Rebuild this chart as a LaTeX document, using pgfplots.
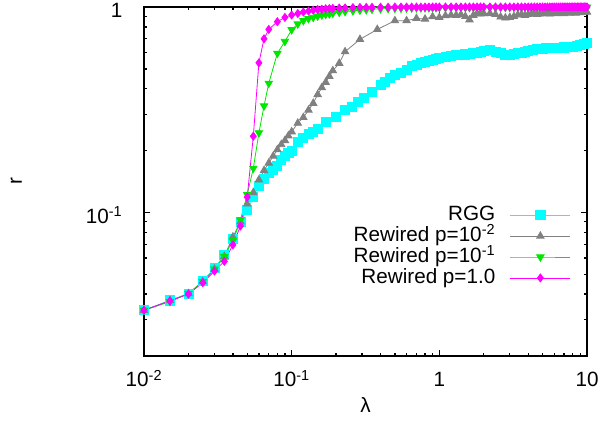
\documentclass[border=0pt]{standalone}
\usepackage{fontspec}
\setmainfont{Liberation Sans}
\usepackage{pgfplots}
\pgfplotsset{compat=1.18}

\definecolor{rgg}{RGB}{0,255,255}
\definecolor{pgray}{RGB}{128,128,128}
\definecolor{pgreen}{RGB}{0,230,0}
\definecolor{pmag}{RGB}{255,0,255}

\begin{document}
\fontsize{15.5}{18}\selectfont
\begin{tikzpicture}[font=\fontsize{15.5}{18}\selectfont]
\path[use as bounding box] (-108pt,-50.25pt) rectangle (342pt,267pt);
\begin{axis}[
  at={(0,0)}, anchor=south west,
  scale only axis, width=332.25pt, height=261.75pt,
  xmode=log, ymode=log,
  xmin=0.01, xmax=10, ymin=0.02, ymax=1,
  xtick={0.01,0.1,1,10},
  xticklabels={10\textsuperscript{-2},10\textsuperscript{-1},1,10},
  minor xtick={0.02,0.03,0.04,0.05,0.06,0.07,0.08,0.09,0.2,0.3,0.4,0.5,0.6,0.7,0.8,0.9,2,3,4,5,6,7,8,9},
  ytick={0.1,1},
  yticklabels={10\textsuperscript{-1},1},
  minor ytick={0.03,0.04,0.05,0.06,0.07,0.08,0.09,0.2,0.3,0.4,0.5,0.6,0.7,0.8,0.9},
  tick align=inside,
  major tick length=4.5pt, minor tick length=2.6pt,
  axis line style={line width=1.3pt},
  every tick/.style={line width=1pt, black},
  xticklabel style={anchor=base, inner sep=0pt, yshift=-23.25pt},
  yticklabel style={anchor=base east, inner sep=0pt, yshift=-8pt},
  yticklabel shift=16pt,
  xlabel={λ}, ylabel={r},
  xlabel style={at={(axis description cs:0.5,-0.1633)}, anchor=base},
  ylabel style={at={(axis description cs:-0.2754,0.5)}, anchor=base},
  legend style={draw=none, fill=none, at={(0.973,0.442)}, anchor=north east,
    /tikz/column sep=9pt, row sep=0pt,
    nodes={inner xsep=2pt, inner ysep=0.5pt, text height=11.2pt, text depth=3.5pt}},
  legend cell align=right,
  legend plot pos=right,
  legend image code/.code={\draw[mark repeat=2,mark phase=2,#1] plot coordinates {(0pt,0pt) (22.5pt,0pt) (45pt,0pt)};},
  every axis plot/.append style={line width=0.6pt},
]
% RGG
\addplot[color=rgg, mark=square*, mark size=3.4pt, mark options={solid}] coordinates {
(0.01,0.0334) (0.015,0.0373) (0.02,0.0403) (0.025,0.0462) (0.03,0.0535) (0.035,0.062)
(0.04,0.074) (0.045,0.090) (0.05,0.1025) (0.055,0.1186) (0.06,0.135) (0.065,0.146)
(0.07,0.155) (0.075,0.162) (0.08,0.168) (0.085,0.18) (0.09,0.188) (0.095,0.195)
(0.1,0.200) (0.11,0.221) (0.12,0.231) (0.13,0.24) (0.14,0.247) (0.15,0.255)
(0.17,0.276) (0.2,0.292) (0.23,0.315) (0.255,0.325) (0.28,0.345) (0.31,0.36)
(0.35,0.387) (0.4,0.417) (0.43,0.43) (0.46,0.45) (0.5,0.465) (0.55,0.48)
(0.6,0.495) (0.65,0.515) (0.7,0.525) (0.75,0.535) (0.8,0.542) (0.85,0.548)
(0.9,0.552) (0.95,0.56) (1.0,0.565) (1.1,0.572) (1.2,0.577) (1.3,0.582)
(1.4,0.585) (1.5,0.588) (1.6,0.59) (1.7,0.595) (1.8,0.6) (1.9,0.605)
(2.0,0.61) (2.2,0.618) (2.4,0.605) (2.6,0.595) (2.8,0.586) (3.0,0.584)
(3.2,0.59) (3.4,0.598) (3.6,0.6) (3.8,0.605) (4.0,0.61) (4.3,0.618)
(4.6,0.622) (5.0,0.628) (5.3,0.629) (5.6,0.63) (6.0,0.632) (6.5,0.633)
(7.0,0.636) (7.5,0.638) (8.0,0.641) (8.5,0.645) (9.0,0.652) (9.5,0.66) (10,0.666)
};
\addlegendentry{RGG}
% Rewired p=1e-2
\addplot[color=pgray, mark=triangle*, mark size=3.2pt, mark options={solid}] coordinates {
(0.01,0.0334) (0.015,0.0372) (0.02,0.0402) (0.025,0.046) (0.03,0.053) (0.035,0.061)
(0.04,0.076) (0.045,0.090) (0.05,0.110) (0.055,0.125) (0.06,0.144) (0.065,0.16)
(0.07,0.174) (0.075,0.188) (0.08,0.202) (0.085,0.214) (0.09,0.224) (0.095,0.236)
(0.1,0.247) (0.11,0.272) (0.12,0.29) (0.13,0.315) (0.14,0.34) (0.15,0.375)
(0.16,0.405) (0.17,0.43) (0.18,0.46) (0.19,0.49) (0.21,0.532) (0.23,0.606)
(0.29,0.696) (0.38,0.778) (0.5,0.858) (0.6,0.858) (0.7,0.88) (0.8,0.874)
(0.9,0.897) (1.0,0.89) (1.1,0.907) (1.2,0.914) (1.3,0.912) (1.4,0.918)
(1.5,0.9) (1.6,0.866) (1.7,0.912) (1.8,0.93) (1.9,0.925) (2.0,0.93)
(2.2,0.93) (2.4,0.92) (2.6,0.895) (2.8,0.885) (3.0,0.89) (3.2,0.9)
(3.4,0.915) (3.6,0.92) (3.8,0.91) (4.0,0.92) (4.2,0.925) (4.4,0.93)
(4.6,0.92) (4.8,0.925) (5.0,0.93) (5.2,0.935) (5.4,0.93) (5.6,0.925)
(5.8,0.935) (6.0,0.94) (6.2,0.93) (6.4,0.935) (6.6,0.94) (6.8,0.935)
(7.0,0.93) (7.2,0.94) (7.4,0.945) (7.6,0.935) (7.8,0.94) (8.0,0.945)
(8.2,0.94) (8.4,0.935) (8.6,0.945) (8.8,0.95) (9.0,0.94) (9.2,0.945)
(9.4,0.95) (9.6,0.945) (9.8,0.95) (10,0.945)
};
\addlegendentry{Rewired p=10\textsuperscript{-2}}
% Rewired p=1e-1
\addplot[color=pgreen, mark=triangle*, mark size=3.2pt, mark options={solid, rotate=180}] coordinates {
(0.01,0.0334) (0.015,0.0368) (0.02,0.0403) (0.025,0.046) (0.03,0.053) (0.035,0.061)
(0.04,0.073) (0.045,0.092) (0.05,0.122) (0.055,0.164) (0.06,0.244) (0.065,0.33)
(0.07,0.425) (0.08,0.595) (0.09,0.68) (0.1,0.775) (0.11,0.827) (0.12,0.858)
(0.13,0.878) (0.14,0.89) (0.15,0.903) (0.16,0.914) (0.17,0.92) (0.18,0.926)
(0.19,0.932) (0.21,0.942) (0.23,0.95) (0.26,0.958) (0.29,0.965) (0.32,0.97)
(0.35,0.975) (0.4,0.98) (0.45,0.982) (0.5,0.985) (0.55,0.986) (0.6,0.988)
(0.65,0.989) (0.7,0.99) (0.75,0.99) (0.8,0.991) (0.85,0.991) (0.9,0.992)
(0.95,0.992) (1.0,0.993) (1.1,0.993) (1.2,0.993) (1.3,0.994) (1.4,0.994)
(1.5,0.994) (1.6,0.994) (1.7,0.995) (1.8,0.995) (1.9,0.995) (2.0,0.995)
(2.2,0.995) (2.4,0.995) (2.6,0.996) (2.8,0.996) (3.0,0.996) (3.2,0.996)
(3.4,0.996) (3.6,0.996) (3.8,0.997) (4.0,0.997) (4.2,0.997) (4.4,0.997)
(4.6,0.997) (4.8,0.997) (5.0,0.997) (5.2,0.997) (5.4,0.997) (5.6,0.997)
(5.8,0.998) (6.0,0.998) (6.2,0.998) (6.4,0.998) (6.6,0.998) (6.8,0.998)
(7.0,0.998) (7.2,0.998) (7.4,0.998) (7.6,0.998) (7.8,0.998) (8.0,0.998)
(8.2,0.998) (8.4,0.998) (8.6,0.998) (8.8,0.998) (9.0,0.998) (9.2,0.998)
(9.4,0.998) (9.6,0.998) (9.8,0.998) (10,0.998)
};
\addlegendentry{Rewired p=10\textsuperscript{-1}}
% Rewired p=1.0
\addplot[color=pmag, mark=diamond*, mark size=3pt, mark options={solid}] coordinates {
(0.01,0.0334) (0.015,0.0371) (0.02,0.0400) (0.025,0.0455) (0.03,0.0518) (0.035,0.0578)
(0.04,0.0695) (0.045,0.0858) (0.05,0.1186) (0.055,0.235) (0.06,0.535) (0.065,0.70)
(0.07,0.778) (0.08,0.848) (0.09,0.89) (0.1,0.914) (0.11,0.93) (0.12,0.945)
(0.13,0.955) (0.14,0.965) (0.15,0.972) (0.16,0.976) (0.17,0.98) (0.18,0.983)
(0.19,0.985) (0.21,0.988) (0.23,0.99) (0.26,0.993) (0.29,0.995) (0.32,0.996)
(0.35,0.997) (0.4,0.998) (0.45,0.998) (0.5,0.999) (0.55,0.999) (0.6,0.999)
(0.65,0.999) (0.7,0.999) (0.75,0.999) (0.8,0.999) (0.85,0.999) (0.9,1.0)
(0.95,1.0) (1.0,1.0) (1.1,1.0) (1.2,1.0) (1.3,1.0) (1.4,1.0)
(1.5,1.0) (1.6,1.0) (1.7,1.0) (1.8,1.0) (1.9,1.0) (2.0,1.0)
(2.2,1.0) (2.4,1.0) (2.6,1.0) (2.8,1.0) (3.0,1.0) (3.2,1.0)
(3.4,1.0) (3.6,1.0) (3.8,1.0) (4.0,1.0) (4.2,1.0) (4.4,1.0)
(4.6,1.0) (4.8,1.0) (5.0,1.0) (5.2,1.0) (5.4,1.0) (5.6,1.0)
(5.8,1.0) (6.0,1.0) (6.2,1.0) (6.4,1.0) (6.6,1.0) (6.8,1.0)
(7.0,1.0) (7.2,1.0) (7.4,1.0) (7.6,1.0) (7.8,1.0) (8.0,1.0)
(8.2,1.0) (8.4,1.0) (8.6,1.0) (8.8,1.0) (9.0,1.0) (9.2,1.0)
(9.4,1.0) (9.6,1.0) (9.8,1.0) (10,1.0)
};
\addlegendentry{Rewired p=1.0}
\end{axis}
\end{tikzpicture}
\end{document}
